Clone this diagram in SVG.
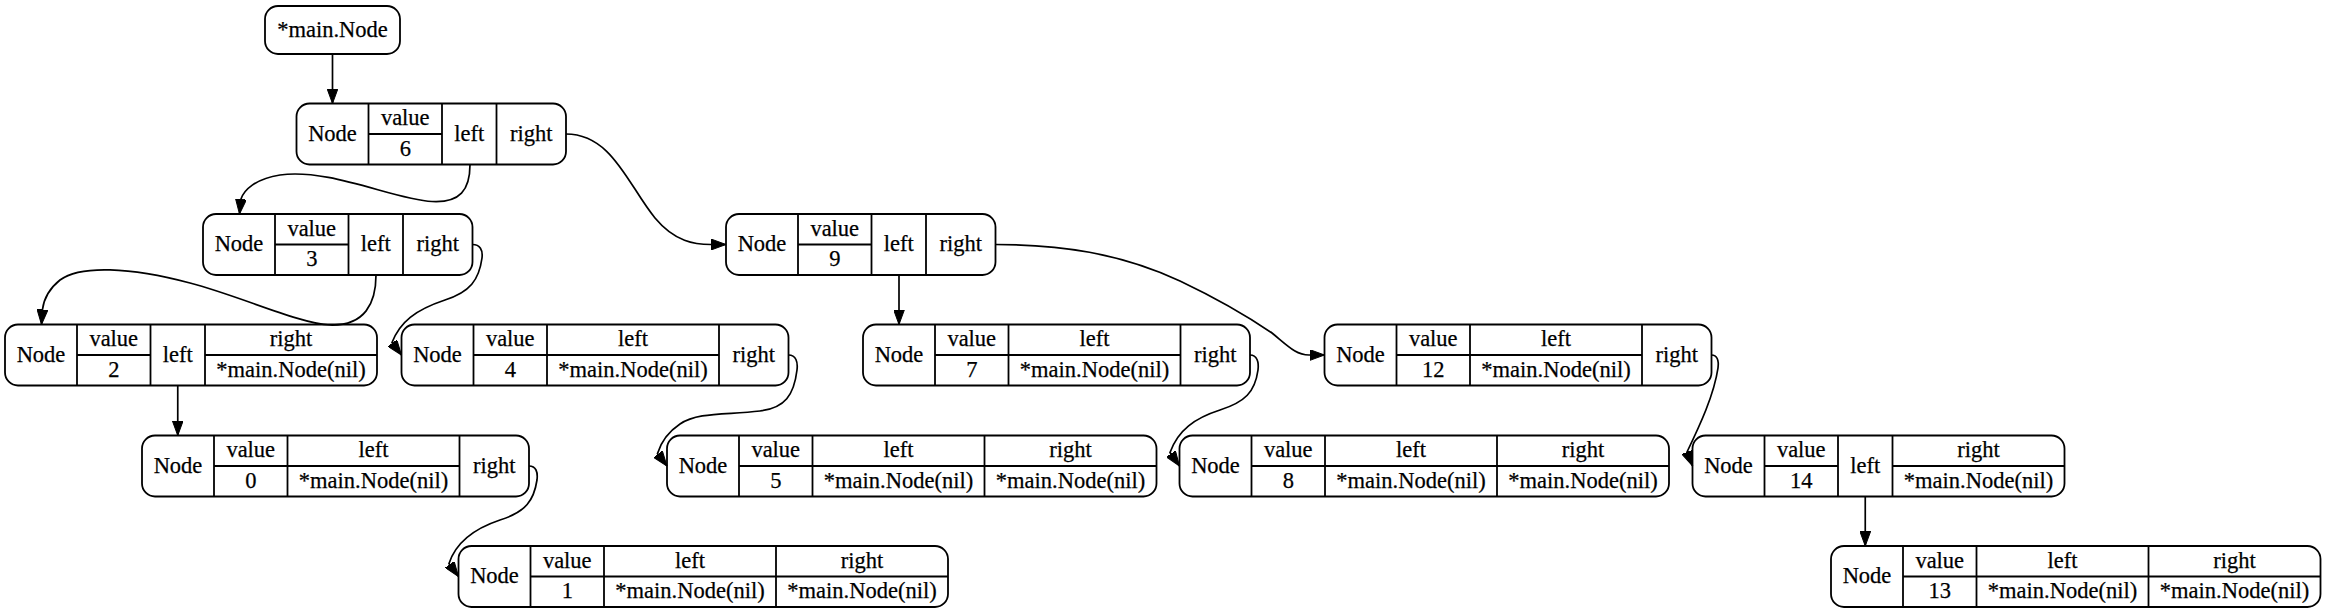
<svg xmlns="http://www.w3.org/2000/svg" width="2325" height="613" viewBox="0 0 2325 613">
<style>
.node rect,.node line{fill:none;stroke:#000;stroke-width:1.8}
.node text{font-family:Liberation Serif,Tinos,Times New Roman,Times,Nimbus Roman,DejaVu Serif,Noto Serif,serif;font-size:22.5px;text-anchor:middle;fill:#000;stroke:#000;stroke-width:0.25}
.edges path{fill:none;stroke:#000;stroke-width:1.7;marker-end:url(#arr)}
</style>
<defs>
<marker id="arr" viewBox="0 0 15 11" refX="15" refY="5.5" markerWidth="15" markerHeight="11" markerUnits="userSpaceOnUse" orient="auto">
<path d="M0,0 L15,5.5 L0,11 Z" fill="#000" stroke="#000" stroke-width="1"/>
</marker>
</defs>
<rect width="2325" height="613" fill="#fff"/>

<g id="root" class="node">
<rect x="265" y="6" width="135" height="48" rx="13"/>
<text x="332.5" y="36.8">*main.Node</text>
</g>

<g id="n6" class="node">
<rect x="296.5" y="103.5" width="269.5" height="61" rx="13"/>
<line x1="368.5" y1="103.5" x2="368.5" y2="164.5"/><line x1="442" y1="103.5" x2="442" y2="164.5"/><line x1="496.5" y1="103.5" x2="496.5" y2="164.5"/>
<line x1="368.5" y1="134" x2="442" y2="134"/>
<text x="332.5" y="140.5">Node</text><text x="405.25" y="125">value</text><text x="405.25" y="155.5">6</text><text x="469.25" y="140.5">left</text><text x="531.25" y="140.5">right</text>
</g>

<g id="n3" class="node">
<rect x="203" y="214" width="269.5" height="61" rx="13"/>
<line x1="275" y1="214" x2="275" y2="275"/><line x1="348.5" y1="214" x2="348.5" y2="275"/><line x1="403" y1="214" x2="403" y2="275"/>
<line x1="275" y1="244.5" x2="348.5" y2="244.5"/>
<text x="239" y="251">Node</text><text x="311.75" y="235.5">value</text><text x="311.75" y="266">3</text><text x="375.75" y="251">left</text><text x="437.75" y="251">right</text>
</g>

<g id="n9" class="node">
<rect x="726" y="214" width="269.5" height="61" rx="13"/>
<line x1="798" y1="214" x2="798" y2="275"/><line x1="871.5" y1="214" x2="871.5" y2="275"/><line x1="926" y1="214" x2="926" y2="275"/>
<line x1="798" y1="244.5" x2="871.5" y2="244.5"/>
<text x="762" y="251">Node</text><text x="834.75" y="235.5">value</text><text x="834.75" y="266">9</text><text x="898.75" y="251">left</text><text x="960.75" y="251">right</text>
</g>

<g id="n2" class="node">
<rect x="5" y="324.5" width="372" height="61" rx="13"/>
<line x1="77" y1="324.5" x2="77" y2="385.5"/><line x1="150.5" y1="324.5" x2="150.5" y2="385.5"/><line x1="205" y1="324.5" x2="205" y2="385.5"/>
<line x1="77" y1="355" x2="150.5" y2="355"/><line x1="205" y1="355" x2="377" y2="355"/>
<text x="41" y="361.5">Node</text><text x="113.75" y="346">value</text><text x="113.75" y="376.5">2</text><text x="177.75" y="361.5">left</text><text x="291" y="346">right</text><text x="291" y="376.5">*main.Node(nil)</text>
</g>

<g id="n4" class="node">
<rect x="401.5" y="324.5" width="387" height="61" rx="13"/>
<line x1="473.5" y1="324.5" x2="473.5" y2="385.5"/><line x1="547" y1="324.5" x2="547" y2="385.5"/><line x1="719" y1="324.5" x2="719" y2="385.5"/>
<line x1="473.5" y1="355" x2="719" y2="355"/>
<text x="437.5" y="361.5">Node</text><text x="510.25" y="346">value</text><text x="510.25" y="376.5">4</text><text x="633" y="346">left</text><text x="633" y="376.5">*main.Node(nil)</text><text x="753.75" y="361.5">right</text>
</g>

<g id="n7" class="node">
<rect x="863" y="324.5" width="387" height="61" rx="13"/>
<line x1="935" y1="324.5" x2="935" y2="385.5"/><line x1="1008.5" y1="324.5" x2="1008.5" y2="385.5"/><line x1="1180.5" y1="324.5" x2="1180.5" y2="385.5"/>
<line x1="935" y1="355" x2="1180.5" y2="355"/>
<text x="899" y="361.5">Node</text><text x="971.75" y="346">value</text><text x="971.75" y="376.5">7</text><text x="1094.5" y="346">left</text><text x="1094.5" y="376.5">*main.Node(nil)</text><text x="1215.25" y="361.5">right</text>
</g>

<g id="n12" class="node">
<rect x="1324.5" y="324.5" width="387" height="61" rx="13"/>
<line x1="1396.5" y1="324.5" x2="1396.5" y2="385.5"/><line x1="1470" y1="324.5" x2="1470" y2="385.5"/><line x1="1642" y1="324.5" x2="1642" y2="385.5"/>
<line x1="1396.5" y1="355" x2="1642" y2="355"/>
<text x="1360.5" y="361.5">Node</text><text x="1433.25" y="346">value</text><text x="1433.25" y="376.5">12</text><text x="1556" y="346">left</text><text x="1556" y="376.5">*main.Node(nil)</text><text x="1676.75" y="361.5">right</text>
</g>

<g id="n0" class="node">
<rect x="142" y="435.5" width="387" height="61" rx="13"/>
<line x1="214" y1="435.5" x2="214" y2="496.5"/><line x1="287.5" y1="435.5" x2="287.5" y2="496.5"/><line x1="459.5" y1="435.5" x2="459.5" y2="496.5"/>
<line x1="214" y1="466" x2="459.5" y2="466"/>
<text x="178" y="472.5">Node</text><text x="250.75" y="457">value</text><text x="250.75" y="487.5">0</text><text x="373.5" y="457">left</text><text x="373.5" y="487.5">*main.Node(nil)</text><text x="494.25" y="472.5">right</text>
</g>

<g id="n5" class="node">
<rect x="667" y="435.5" width="489.5" height="61" rx="13"/>
<line x1="739" y1="435.5" x2="739" y2="496.5"/><line x1="812.5" y1="435.5" x2="812.5" y2="496.5"/><line x1="984.5" y1="435.5" x2="984.5" y2="496.5"/>
<line x1="739" y1="466" x2="1156.5" y2="466"/>
<text x="703" y="472.5">Node</text><text x="775.75" y="457">value</text><text x="775.75" y="487.5">5</text><text x="898.5" y="457">left</text><text x="898.5" y="487.5">*main.Node(nil)</text><text x="1070.5" y="457">right</text><text x="1070.5" y="487.5">*main.Node(nil)</text>
</g>

<g id="n8" class="node">
<rect x="1179.5" y="435.5" width="489.5" height="61" rx="13"/>
<line x1="1251.5" y1="435.5" x2="1251.5" y2="496.5"/><line x1="1325" y1="435.5" x2="1325" y2="496.5"/><line x1="1497" y1="435.5" x2="1497" y2="496.5"/>
<line x1="1251.5" y1="466" x2="1669" y2="466"/>
<text x="1215.5" y="472.5">Node</text><text x="1288.25" y="457">value</text><text x="1288.25" y="487.5">8</text><text x="1411" y="457">left</text><text x="1411" y="487.5">*main.Node(nil)</text><text x="1583" y="457">right</text><text x="1583" y="487.5">*main.Node(nil)</text>
</g>

<g id="n14" class="node">
<rect x="1692.5" y="435.5" width="372" height="61" rx="13"/>
<line x1="1764.5" y1="435.5" x2="1764.5" y2="496.5"/><line x1="1838" y1="435.5" x2="1838" y2="496.5"/><line x1="1892.5" y1="435.5" x2="1892.5" y2="496.5"/>
<line x1="1764.5" y1="466" x2="1838" y2="466"/><line x1="1892.5" y1="466" x2="2064.5" y2="466"/>
<text x="1728.5" y="472.5">Node</text><text x="1801.25" y="457">value</text><text x="1801.25" y="487.5">14</text><text x="1865.25" y="472.5">left</text><text x="1978.5" y="457">right</text><text x="1978.5" y="487.5">*main.Node(nil)</text>
</g>

<g id="n1" class="node">
<rect x="458.5" y="546" width="489.5" height="61" rx="13"/>
<line x1="530.5" y1="546" x2="530.5" y2="607"/><line x1="604" y1="546" x2="604" y2="607"/><line x1="776" y1="546" x2="776" y2="607"/>
<line x1="530.5" y1="576.5" x2="948" y2="576.5"/>
<text x="494.5" y="583">Node</text><text x="567.25" y="567.5">value</text><text x="567.25" y="598">1</text><text x="690" y="567.5">left</text><text x="690" y="598">*main.Node(nil)</text><text x="862" y="567.5">right</text><text x="862" y="598">*main.Node(nil)</text>
</g>

<g id="n13" class="node">
<rect x="1831" y="546" width="489.5" height="61" rx="13"/>
<line x1="1903" y1="546" x2="1903" y2="607"/><line x1="1976.5" y1="546" x2="1976.5" y2="607"/><line x1="2148.5" y1="546" x2="2148.5" y2="607"/>
<line x1="1903" y1="576.5" x2="2320.5" y2="576.5"/>
<text x="1867" y="583">Node</text><text x="1939.75" y="567.5">value</text><text x="1939.75" y="598">13</text><text x="2062.5" y="567.5">left</text><text x="2062.5" y="598">*main.Node(nil)</text><text x="2234.5" y="567.5">right</text><text x="2234.5" y="598">*main.Node(nil)</text>
</g>

<g id="edges" class="edges">
<path d="M332.5,54 L332.5,103.5"/>
<path d="M470,164.5 C470,190 460,203 432,201.5 C395,200 330,168 280,175 C255,179 244,190 241,199 L239.5,214"/>
<path d="M566,134 C612,134 628,185 655,218 C675,242 695,244.5 711,244.5 L726,244.5"/>
<path d="M376,275 C376,303 365,326 330,325 C300,324 240,296 190,283 C130,267 80,265 60,280 C50,288 44,298 42.5,309.5 L41.5,324.5"/>
<path d="M472.5,244.5 C480,244.5 483,250 482,258 C479,280 470,292 445,300 C415,310 400,322 392,342.5 L401.5,355"/>
<path d="M899,275 L899,324.5"/>
<path d="M995.5,244.5 C1060,244.5 1120,253 1180,281 C1220,300 1250,318 1272,333 C1288,346 1296,355 1309,355 L1324.5,355"/>
<path d="M177.75,385.5 L177.75,435.5"/>
<path d="M788.5,355 C796,355 798,362 797,370 C794,395 785,408 760,411 C725,415 698,412 680,424 C668,432 661,442 657.5,453.5 L667,466"/>
<path d="M529,466 C536,466 538,472 537,480 C534,500 526,512 500,520 C470,530 455,545 449,563.5 L458.5,576.5"/>
<path d="M1250,355 C1257,355 1259,362 1258,370 C1255,392 1245,402 1220,410 C1195,418 1178,430 1170,452.5 L1179.5,466"/>
<path d="M1711.5,355 C1717,355 1719,360 1718,368 C1714,395 1700,425 1687,452 L1692.5,466"/>
<path d="M1865.25,496.5 L1865.25,546"/>
</g>
</svg>
